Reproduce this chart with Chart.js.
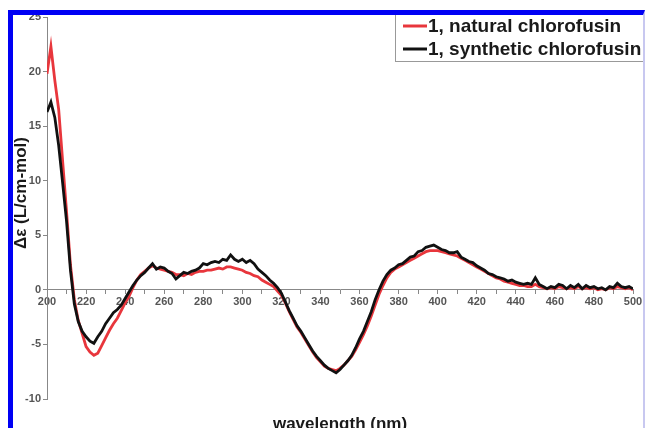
<!DOCTYPE html>
<html>
<head>
<meta charset="utf-8">
<script src="https://cdn.jsdelivr.net/npm/chart.js@4"></script>
<style>
  html, body { margin: 0; padding: 0; background: #fff; }
  #wrap { position: relative; width: 645px; height: 428px; }
  #frame { position: absolute; left: 8px; top: 10px; right: 0; bottom: 0;
           border-top: 5px solid #0000f4; border-left: 5px solid #0000f4;
           border-right: 2px solid #c8c8f0; pointer-events: none; }
</style>
</head>
<body>
<div id="wrap">
  <canvas id="cd" width="645" height="428"></canvas>
  <div id="frame"></div>
</div>
<script>
// wavelength grid (nm), every 2 nm
var wavelengths = [];
for (var w = 200; w <= 500; w += 2) wavelengths.push(w);

var naturalCD = [
  19.8, 22.3, 19.2, 16.5, 11.8, 7.2, 2.3, -0.9, -2.8, -4.0,
  -5.2, -5.7, -6.0, -5.8, -5.1, -4.4, -3.7, -3.1, -2.6, -1.9,
  -1.2, -0.6, 0.2, 0.9, 1.4, 1.7, 2.0, 2.2, 2.0, 1.9,
  1.8, 1.7, 1.6, 1.4, 1.4, 1.3, 1.5, 1.4, 1.6, 1.7,
  1.7, 1.8, 1.8, 1.9, 2.0, 1.9, 2.1, 2.1, 2.0, 1.9,
  1.8, 1.6, 1.5, 1.3, 1.2, 0.9, 0.7, 0.5, 0.3, -0.1,
  -0.5, -1.2, -2.0, -2.7, -3.4, -3.9, -4.5, -5.1, -5.7, -6.2,
  -6.6, -7.0, -7.2, -7.3, -7.4, -7.2, -6.9, -6.5, -6.1, -5.5,
  -4.8, -4.1, -3.3, -2.4, -1.4, -0.4, 0.4, 1.1, 1.6, 1.9,
  2.1, 2.3, 2.5, 2.7, 2.9, 3.1, 3.3, 3.5, 3.6, 3.6,
  3.6, 3.5, 3.4, 3.3, 3.2, 3.1, 2.9, 2.7, 2.5, 2.3,
  2.1, 1.9, 1.7, 1.5, 1.3, 1.1, 1.0, 0.8, 0.7, 0.6,
  0.5, 0.4, 0.4, 0.3, 0.3, 0.5, 0.3, 0.2, 0.1, 0.2,
  0.1, 0.3, 0.2, 0.1, 0.2, 0.1, 0.3, 0.1, 0.2, 0.1,
  0.2, 0.0, 0.1, 0.0, 0.2, 0.1, 0.3, 0.2, 0.1, 0.2,
  0.0
];

var syntheticCD = [
  16.3, 17.2, 15.8, 13.2, 9.8, 6.3, 1.8, -1.3, -2.9, -3.8,
  -4.3, -4.7, -4.9, -4.3, -3.8, -3.1, -2.6, -2.1, -1.8, -1.4,
  -0.8, -0.2, 0.4, 0.9, 1.3, 1.6, 2.0, 2.4, 1.9, 2.1,
  2.0, 1.7, 1.5, 1.0, 1.3, 1.6, 1.5, 1.7, 1.8, 2.0,
  2.4, 2.3, 2.5, 2.6, 2.5, 2.8, 2.7, 3.2, 2.8, 2.6,
  2.8, 2.5, 2.7, 2.4, 1.9, 1.6, 1.3, 0.9, 0.6, 0.2,
  -0.3, -1.1, -1.9, -2.6, -3.3, -3.8, -4.4, -5.0, -5.6, -6.1,
  -6.5, -6.9, -7.2, -7.4, -7.6, -7.3, -6.9, -6.5, -6.0, -5.3,
  -4.5, -3.8, -2.9, -2.0, -0.9, 0.0, 0.8, 1.4, 1.8, 2.0,
  2.3, 2.4, 2.7, 3.0, 3.1, 3.5, 3.6, 3.9, 4.0, 4.1,
  3.9, 3.7, 3.6, 3.4, 3.4, 3.5, 3.0, 2.8, 2.6, 2.5,
  2.2, 2.0, 1.8, 1.5, 1.4, 1.2, 1.1, 1.0, 0.8, 0.9,
  0.7, 0.6, 0.5, 0.6, 0.5, 1.1, 0.5, 0.3, 0.1, 0.3,
  0.2, 0.5, 0.4, 0.1, 0.4, 0.2, 0.5, 0.1, 0.4, 0.2,
  0.3, 0.1, 0.2, 0.0, 0.3, 0.2, 0.6, 0.3, 0.2, 0.3,
  0.1
];

var seriesNames = ["1, natural chlorofusin", "1, synthetic chlorofusin"];
var seriesColors = ["#e8363c", "#111111"];
var fontFamily = '"Liberation Sans", Arial, sans-serif';

function toPoints(ys) {
  return ys.map(function (y, i) { return { x: wavelengths[i], y: y }; });
}

// boxed legend in the top right corner
var boxLegend = {
  id: 'boxLegend',
  afterDraw: function (chart) {
    var ctx = chart.ctx;
    ctx.save();
    ctx.strokeStyle = '#999';
    ctx.lineWidth = 1;
    ctx.strokeRect(395.5, 10.5, 260, 51);
    ctx.font = 'bold 19px ' + fontFamily;
    ctx.textBaseline = 'middle';
    chart.data.datasets.forEach(function (ds, i) {
      var y = 26 + i * 23;
      ctx.strokeStyle = ds.borderColor;
      ctx.lineWidth = 3;
      ctx.beginPath();
      ctx.moveTo(403, y);
      ctx.lineTo(427, y);
      ctx.stroke();
      ctx.fillStyle = '#1a1a1a';
      ctx.fillText(ds.label, 428, y + 1);
    });
    ctx.restore();
  }
};

// axis titles: x title at the bottom edge, y title a bit above centre
var axisTitles = {
  id: 'axisTitles',
  afterDraw: function (chart) {
    var ctx = chart.ctx;
    var a = chart.chartArea;
    ctx.save();
    ctx.fillStyle = '#1a1a1a';
    ctx.textAlign = 'center';
    ctx.textBaseline = 'middle';
    ctx.font = 'bold 17px ' + fontFamily;
    ctx.fillText('wavelength (nm)', (a.left + a.right) / 2, 424);
    ctx.translate(21, 193);
    ctx.rotate(-Math.PI / 2);
    ctx.fillText('Δε (L/cm-mol)', 0, 0);
    ctx.restore();
  }
};

var tickFont = { family: fontFamily, size: 11, weight: 'bold' };

new Chart(document.getElementById('cd'), {
  type: 'line',
  data: {
    datasets: [{
      label: seriesNames[0],
      data: toPoints(naturalCD),
      borderColor: seriesColors[0],
      borderWidth: 2.8,
      pointRadius: 0,
      tension: 0,
      order: 1
    }, {
      label: seriesNames[1],
      data: toPoints(syntheticCD),
      borderColor: seriesColors[1],
      borderWidth: 2.8,
      pointRadius: 0,
      tension: 0,
      order: 0
    }]
  },
  options: {
    responsive: false,
    animation: false,
    layout: { padding: { left: 0, top: 17, right: 12, bottom: 29 } },
    scales: {
      x: {
        type: 'linear',
        position: { y: 0 },
        min: 200,
        max: 500,
        grid: { drawOnChartArea: false, tickLength: 4, color: '#888' },
        border: { color: '#888' },
        ticks: {
          stepSize: 10,
          autoSkip: false,
          maxRotation: 0,
          padding: 2,
          color: '#555',
          font: tickFont,
          callback: function (v) { return v % 20 === 0 ? v : ''; }
        }
      },
      y: {
        min: -10,
        max: 25,
        grid: { drawOnChartArea: false, tickLength: 4, color: '#888' },
        border: { color: '#888' },
        ticks: { stepSize: 5, padding: 2, color: '#555', font: tickFont },
        afterFit: function (scale) { scale.width = 47; }
      }
    },
    plugins: {
      legend: { display: false },
      tooltip: { enabled: false }
    }
  },
  plugins: [boxLegend, axisTitles]
});
</script>
</body>
</html>
